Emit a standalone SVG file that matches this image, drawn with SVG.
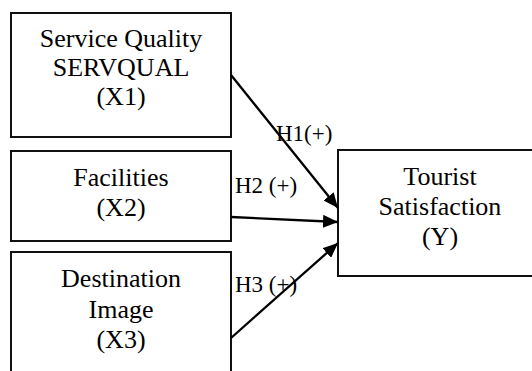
<svg xmlns="http://www.w3.org/2000/svg" width="532" height="371" viewBox="0 0 532 371" font-family="Liberation Serif, Times New Roman, serif">
  <style>
    .box { fill: #fff; stroke: #111; stroke-width: 2; }
    .t { font-size: 26px; fill: #000; text-anchor: middle; }
    .lbl { font-size: 23px; fill: #000; }
    .edge { stroke: #000; stroke-width: 2.3; fill: none; marker-end: url(#arrow); }
  </style>
  <defs>
    <!-- solid triangular arrowhead, tip sits on the target border -->
    <marker id="arrow" viewBox="0 0 15 13" refX="15" refY="6.5" markerWidth="15" markerHeight="13" markerUnits="userSpaceOnUse" orient="auto">
      <path d="M0,0 L15,6.5 L0,13 Z" fill="#000"/>
    </marker>
  </defs>
  <rect width="532" height="371" fill="#fff"/>

  <g id="x1">
    <rect class="box" x="11" y="13" width="220" height="124"/>
    <text class="t" x="121" y="47">Service Quality</text>
    <text class="t" x="121" y="76">SERVQUAL</text>
    <text class="t" x="121" y="105">(X1)</text>
  </g>

  <g id="x2">
    <rect class="box" x="11" y="151" width="220" height="90"/>
    <text class="t" x="121" y="186">Facilities</text>
    <text class="t" x="121" y="216">(X2)</text>
  </g>

  <g id="x3">
    <rect class="box" x="11" y="252" width="220" height="140"/>
    <text class="t" x="121" y="287">Destination</text>
    <text class="t" x="121" y="318">Image</text>
    <text class="t" x="121" y="348">(X3)</text>
  </g>

  <g id="y">
    <rect class="box" x="338" y="150" width="204" height="126"/>
    <text class="t" x="440" y="185">Tourist</text>
    <text class="t" x="440" y="215">Satisfaction</text>
    <text class="t" x="440" y="245">(Y)</text>
  </g>

  <g id="connectors">
    <line class="edge" x1="231" y1="75" x2="338" y2="208"/>
    <line class="edge" x1="231" y1="217" x2="338" y2="222"/>
    <line class="edge" x1="231" y1="338" x2="338" y2="243"/>
    <text class="lbl" x="276" y="141">H1(+)</text>
    <text class="lbl" x="235" y="193">H2 (+)</text>
    <text class="lbl" x="235" y="292">H3 (+)</text>
  </g>
</svg>
